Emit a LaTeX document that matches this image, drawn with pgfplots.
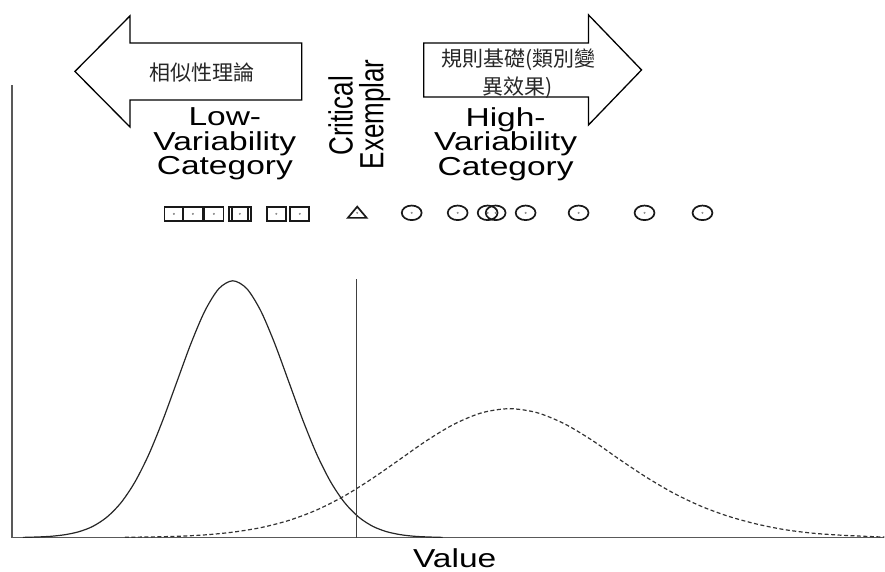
\documentclass[border=0pt]{standalone}
\usepackage{graphicx}
\usepackage{pgfplots}
\pgfplotsset{compat=1.18}
\usepackage{fontspec}
\setmainfont{Liberation Sans}
\newfontfamily\cjk{Noto Sans CJK TC}
% the original figure is stretched sideways
\newcommand\sx[1]{\scalebox{1.29}[1]{#1}}
\newcommand\sy[1]{\scalebox{1}[1.29]{#1}}

\begin{document}
\begin{tikzpicture}
\begin{axis}[
    scale only axis, width=873pt, height=453pt,
    xmin=0, xmax=873, ymin=0, ymax=453,
    axis x line=bottom, axis y line=left,
    axis line style={-, black!65, line width=1.3pt},
    xtick=\empty, ytick=\empty,
    clip=false,
]
    % low-variability category
    \addplot[black!85, line width=1.2pt, smooth] coordinates {
        (11,0.2) (25,0.6) (39,1.3) (53,2.9) (67,5.9) (81,11.3) (95,20.5)
        (109,34.8) (123,55.6) (137,83.4) (151,117.7) (165,155.9) (179,194.0)
        (193,226.8) (207,249.1) (221,257) (235,249.1) (249,226.8) (263,194.0)
        (277,155.9) (291,117.7) (305,83.4) (319,55.6) (333,34.8) (347,20.5)
        (361,11.3) (375,5.9) (389,2.9) (403,1.3) (417,0.6) (431,0.2)
    };
    % high-variability category
    \addplot[black!80, line width=1.2pt, dash pattern=on 4pt off 2.5pt, smooth] coordinates {
        (113,0.3) (140.5,0.7) (168,1.4) (195.5,2.9) (223,5.7) (250.5,10.3)
        (278,17.5) (305.5,27.9) (333,41.9) (360.5,59.1) (388,78.2) (415.5,97.4)
        (443,113.8) (470.5,125.0) (498,129) (525.5,125.0) (553,113.8) (580.5,97.4)
        (608,78.2) (635.5,60) (663,44) (690.5,31) (718,21) (745.5,13.5)
        (773,8) (800.5,4.5) (828,2.5) (855.5,1.2) (873,0.5)
    };
    % critical exemplar
    \addplot[black!75, line width=1.3pt] coordinates {(345,0) (345,259)};

    % exemplars
    \addplot[only marks, mark=square, mark size=7pt,
        mark options={xscale=1.36, line width=1.7pt, draw=black!90}] coordinates {
        (162,324) (181,324) (202,324) (227,324) (229.5,324) (264.5,324) (288,324)
    };
    \addplot[only marks, mark=triangle, mark size=7.5pt,
        mark options={xscale=1.45, line width=1.7pt, draw=black!90}] coordinates {
        (345.5,323.7)
    };
    \addplot[only marks, mark=o, mark size=7.3pt,
        mark options={xscale=1.36, line width=1.7pt, draw=black!90}] coordinates {
        (400,325) (446,325) (476,325) (484,325) (514,325) (567,325) (633,325) (691,325)
    };
    \addplot[only marks, mark=*, mark size=0.8pt, black!45] coordinates {
        (162,324) (181,324) (202,324) (228,324) (264.5,324) (288,324) (345.5,325)
        (400,325) (446,325) (476,325) (484,325) (514,325) (567,325) (633,325) (691,325)
    };

    % labels
    \node[align=center, inner sep=0, font=\fontsize{26}{24.5}\selectfont]
        at (axis cs:213,394) {\sx{Low-}\\\sx{Variability}\\\sx{Category}};
    \node[align=center, inner sep=0, font=\fontsize{26}{24.5}\selectfont]
        at (axis cs:494,394) {\sx{High-}\\\sx{Variability}\\\sx{Category}};
    \node[rotate=90, inner sep=0, font=\fontsize{26}{24}\selectfont]
        at (axis cs:329,422) {\sy{Critical}};
    \node[rotate=90, inner sep=0, font=\fontsize{26}{24}\selectfont]
        at (axis cs:363,423.5) {\sy{Exemplar}};
    \node[inner sep=0, font=\fontsize{26}{24}\selectfont]
        at (axis cs:443,-21) {\sx{Value}};

    % arrows
    \draw[line width=1.3pt, fill=white] (axis cs:290,495) -- (axis cs:118,495)
        -- (axis cs:118,522) -- (axis cs:63,466.5) -- (axis cs:118,411)
        -- (axis cs:118,438) -- (axis cs:290,438) -- cycle;
    \draw[line width=1.3pt, fill=white] (axis cs:412,495) -- (axis cs:577,495)
        -- (axis cs:577,523) -- (axis cs:630,468) -- (axis cs:577,413)
        -- (axis cs:577,441) -- (axis cs:412,441) -- cycle;
    \node[inner sep=0, font=\cjk\fontsize{21}{24}\selectfont, text=black!85]
        at (axis cs:190,465) {相似性理論};
    \node[inner sep=0, font=\cjk\fontsize{21}{24}\selectfont, text=black!85]
        at (axis cs:507,478) {規則基礎(類別變};
    \node[inner sep=0, font=\cjk\fontsize{21}{24}\selectfont, text=black!85]
        at (axis cs:506,450) {異效果)};

    \path (axis cs:-12,-34) rectangle (axis cs:873,538);
\end{axis}
\end{tikzpicture}
\end{document}
